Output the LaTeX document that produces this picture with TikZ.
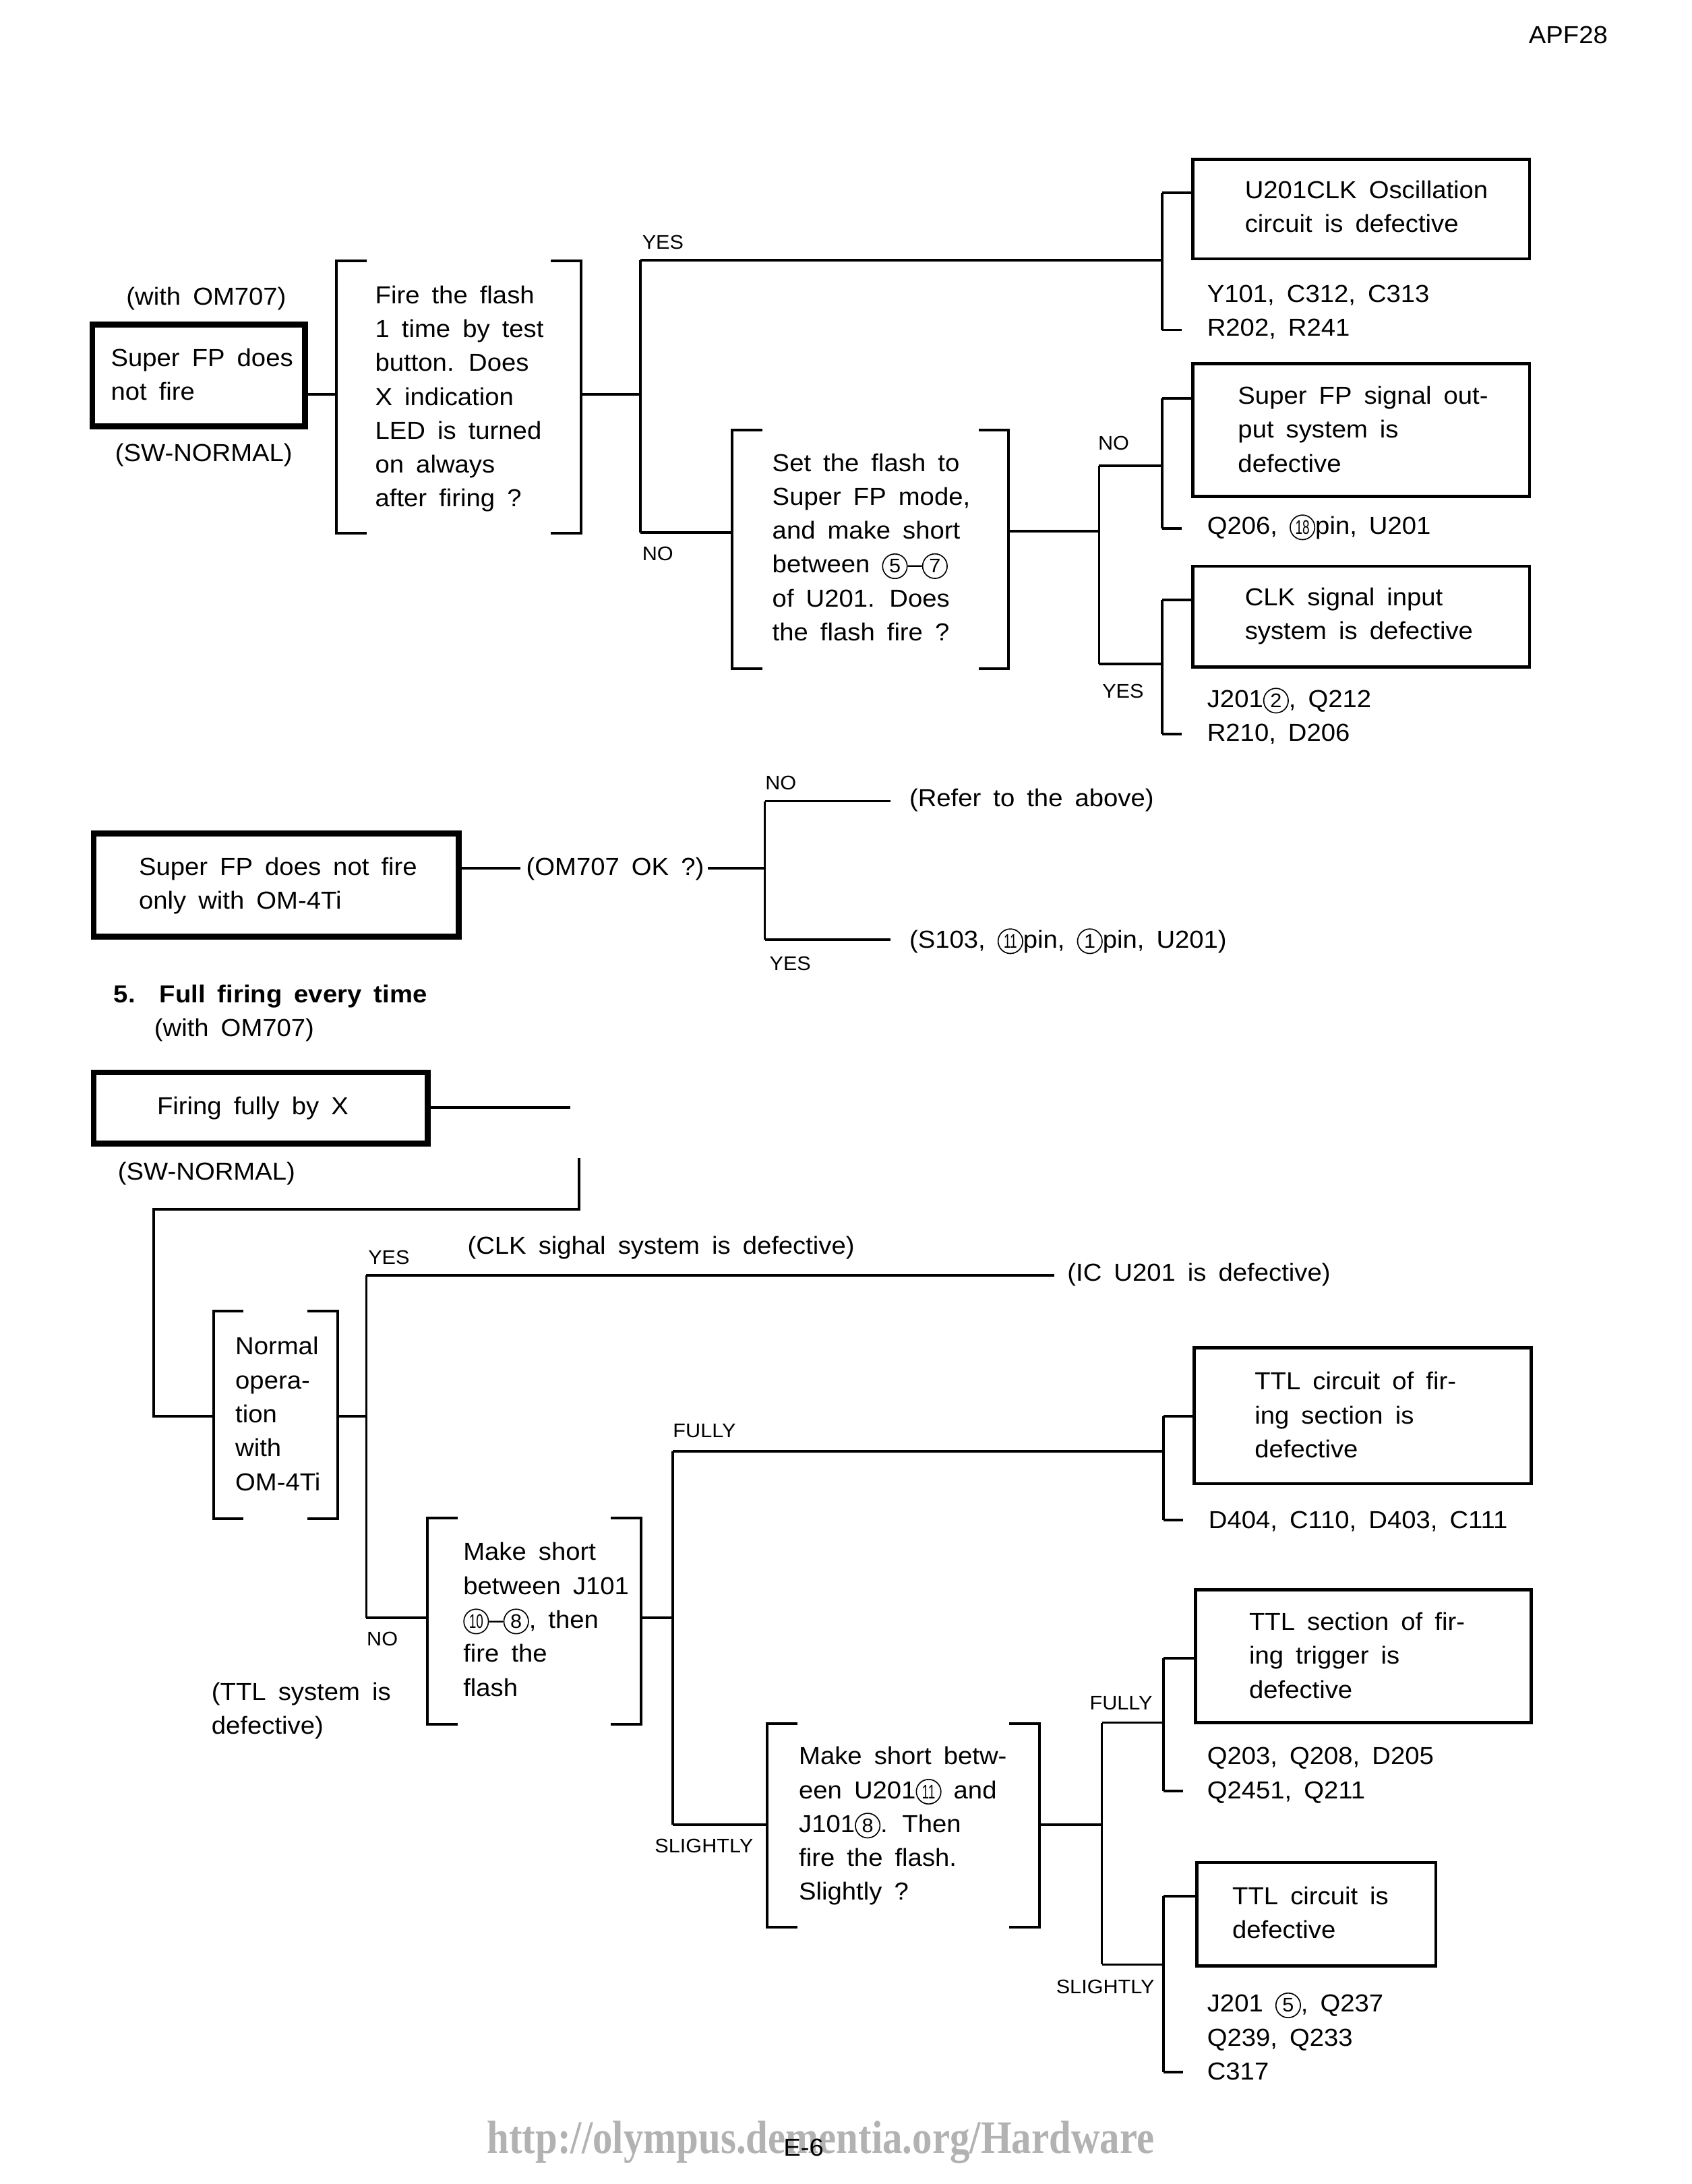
\documentclass[tikz,border=0pt]{standalone}
\usepackage{fontspec}
\setmainfont{Liberation Sans}[FakeStretch=1.05,WordSpace=1.7]
\newfontfamily\urlfont{Liberation Serif}[FakeStretch=0.85]
\usetikzlibrary{fit}
\newcommand{\cn}[1]{\tikz[baseline=(cc.base)]\node[draw,circle,line width=0.45pt,inner sep=0pt,minimum size=10pt,font=\fontsize{8}{8}\selectfont](cc){#1};}
\newcommand{\cnn}[1]{\cn{\scalebox{0.62}[1]{#1}}}
\newcommand{\ml}[1]{\begin{tabular}[t]{@{}l@{}}#1\end{tabular}}
\newcommand{\drawbrackets}[1]{%
  \draw[brk] ([xshift=0.43cm]#1.north west) -- (#1.north west) -- (#1.south west) -- ([xshift=0.43cm]#1.south west);
  \draw[brk] ([xshift=-0.43cm]#1.north east) -- (#1.north east) -- (#1.south east) -- ([xshift=-0.43cm]#1.south east);}
\tikzset{
  conn/.style={line width=1pt},
  brk/.style={line width=1.1pt},
  box/.style={draw,line width=1.2pt,inner sep=0pt},
  tbox/.style={draw,line width=2.4pt,inner sep=0pt},
  hid/.style={inner sep=0pt},
  txt/.style={anchor=base west,inner sep=0pt,font=\fontsize{10}{13.8}\selectfont},
  lbl/.style={anchor=base west,inner sep=0pt,font=\fontsize{8}{9}\selectfont},
}
\begin{document}
\begin{tikzpicture}[x=0.02cm,y=-0.02cm]
\fill[white] (0,0) rectangle (1210,1562);
\useasboundingbox (0,0) rectangle (1210,1562);

% header / footer
\node[txt] (hdr) at (1093,31) {APF28};
\node[anchor=base west,inner sep=0pt,text=black!30,font=\urlfont\bfseries\fontsize{19}{19}\selectfont] (url) at (348,1540) {http://olympus.dementia.org/Hardware};
\node[txt] (pg) at (560,1542) {E-6};

% ---------- top section ----------
\node[txt] (w1) at (90,218) {(with OM707)};
\node[tbox,fit={(66,232)(218,305)}] (b1) {};
\node[txt] (b1t) at (79,262) {\ml{Super FP does\\not fire}};
\node[txt] (sw1) at (82,330) {(SW-NORMAL)};

\node[hid,fit={(241,187)(415,381)}] (q1) {};
\drawbrackets{q1}
\node[txt] (q1t) at (268,217) {\ml{Fire the flash\\1 time by test\\button. Does\\X indication\\LED is turned\\on always\\after firing ?}};

\coordinate (j1) at (458,282);
\coordinate (j1t) at (458,186);
\coordinate (j1b) at (458,381);
\draw[conn] (b1.east |- j1) -- (q1.west |- j1);
\draw[conn] (q1.east |- j1) -- (j1);
\draw[conn] (j1t) -- (j1b);
\node[lbl] (yes1) at (459,178) {YES};
\node[lbl] (no1) at (459,401) {NO};

\node[box,fit={(853,114)(1094,185)}] (bA) {};
\node[txt] (bAt) at (890,142) {\ml{U201CLK Oscillation\\circuit is defective}};
\node[txt] (pA) at (863,216) {\ml{Y101, C312, C313\\R202, R241}};
\coordinate (kA) at (831,186);
\coordinate (kAt) at (831,138);
\coordinate (kAb) at (831,236);
\draw[conn] (j1t) -- (kA);
\draw[conn] (kAt) -- (kAb);
\draw[conn] (kAt) -- (kAt -| bA.west);
\draw[conn] (kAb) -- ++(14,0);

\node[hid,fit={(524,308)(721,478)}] (q2) {};
\drawbrackets{q2}
\node[txt] (q2t) at (552,337) {\ml{Set the flash to\\Super FP mode,\\and make short\\between \cn{5}--\cn{7}\\of U201. Does\\the flash fire ?}};
\draw[conn] (j1b) -- (q2.west |- j1b);
\coordinate (j2) at (786,380);
\coordinate (j2t) at (786,333);
\coordinate (j2b) at (786,475);
\draw[conn] (q2.east |- j2) -- (j2);
\draw[conn] (j2t) -- (j2b);
\node[lbl] (no2) at (785,322) {NO};
\node[lbl] (yes2) at (788,499) {YES};

\node[box,fit={(853,260)(1094,355)}] (bB) {};
\node[txt] (bBt) at (885,289) {\ml{Super FP signal out-\\put system is\\defective}};
\node[txt] (pB) at (863,382) {Q206, \cnn{18}pin, U201};
\coordinate (kB) at (831,333);
\coordinate (kBt) at (831,285);
\coordinate (kBb) at (831,378);
\draw[conn] (j2t) -- (kB);
\draw[conn] (kBt) -- (kBb);
\draw[conn] (kBt) -- (kBt -| bB.west);
\draw[conn] (kBb) -- ++(14,0);

\node[box,fit={(853,405)(1094,477)}] (bC) {};
\node[txt] (bCt) at (890,433) {\ml{CLK signal input\\system is defective}};
\node[txt] (pC) at (863,506) {\ml{J201\cn{2}, Q212\\R210, D206}};
\coordinate (kC) at (831,475);
\coordinate (kCt) at (831,429);
\coordinate (kCb) at (831,525);
\draw[conn] (j2b) -- (kC);
\draw[conn] (kCt) -- (kCb);
\draw[conn] (kCt) -- (kCt -| bC.west);
\draw[conn] (kCb) -- ++(14,0);

% ---------- middle section ----------
\node[tbox,fit={(67,596)(328,670)}] (bD) {};
\node[txt] (bDt) at (99,626) {\ml{Super FP does not fire\\only with OM-4Ti}};
\node[txt] (ok) at (376,626) {(OM707 OK ?)};
\coordinate (m0) at (372,621);
\coordinate (m1) at (506,621);
\coordinate (j3) at (547,621);
\coordinate (j3t) at (547,573);
\coordinate (j3b) at (547,672);
\coordinate (e3t) at (637,573);
\coordinate (e3b) at (637,672);
\draw[conn] (bD.east |- m0) -- (m0);
\draw[conn] (m1) -- (j3);
\draw[conn] (j3t) -- (j3b);
\draw[conn] (j3t) -- (e3t);
\draw[conn] (j3b) -- (e3b);
\node[lbl] (no3) at (547,565) {NO};
\node[lbl] (yes3) at (550,694) {YES};
\node[txt] (ref) at (650,577) {(Refer to the above)};
\node[txt] (s103) at (650,678) {(S103, \cnn{11}pin, \cn{1}pin, U201)};

% ---------- section 5 ----------
\node[txt,font=\fontsize{10}{13.8}\selectfont\bfseries] (h5) at (81,717) {5.\ \ Full firing every time};
\node[txt] (w5) at (110,741) {(with OM707)};
\node[tbox,fit={(67,767)(306,818)}] (bE) {};
\node[txt] (bEt) at (112,797) {Firing fully by X};
\node[txt] (sw5) at (84,844) {(SW-NORMAL)};
\coordinate (eE) at (408,792);
\draw[conn] (bE.east |- eE) -- (eE);

\node[hid,fit={(153,938)(241,1086)}] (q5) {};
\drawbrackets{q5}
\node[txt] (q5t) at (168,969) {\ml{Normal\\opera-\\tion\\with\\OM-4Ti}};
\coordinate (r0) at (414,828);
\coordinate (r1) at (414,865);
\coordinate (r2) at (110,865);
\coordinate (j5) at (262,1013);
\coordinate (j5t) at (262,912);
\coordinate (j5b) at (262,1157);
\coordinate (e5) at (754,912);
\draw[conn] (r0) -- (r1) -- (r2) |- (q5.west |- j5);
\draw[conn] (q5.east |- j5) -- (j5);
\draw[conn] (j5t) -- (j5b);
\draw[conn] (j5t) -- (e5);
\node[lbl] (yes5) at (263,904) {YES};
\node[lbl] (no5) at (262,1177) {NO};
\node[txt] (clk) at (334,897) {(CLK sighal system is defective)};
\node[txt] (ic) at (763,916) {(IC U201 is defective)};
\node[txt] (ttl) at (151,1216) {\ml{(TTL system is\\defective)}};

\node[hid,fit={(306,1086)(458,1233)}] (q3) {};
\drawbrackets{q3}
\node[txt] (q3t) at (331,1116) {\ml{Make short\\between J101\\\cnn{10}--\cn{8}, then\\fire the\\flash}};
\draw[conn] (j5b) -- (q3.west |- j5b);
\coordinate (j6) at (481,1157);
\coordinate (j6t) at (481,1038);
\coordinate (j6b) at (481,1305);
\draw[conn] (q3.east |- j6) -- (j6);
\draw[conn] (j6t) -- (j6b);
\node[lbl] (fu6) at (481,1028) {FULLY};
\node[lbl] (sl6) at (468,1325) {SLIGHTLY};

\node[box,fit={(854,964)(1095,1061)}] (bF) {};
\node[txt] (bFt) at (897,994) {\ml{TTL circuit of fir-\\ing section is\\defective}};
\node[txt] (pF) at (864,1093) {D404, C110, D403, C111};
\coordinate (kF) at (832,1038);
\coordinate (kFt) at (832,1013);
\coordinate (kFb) at (832,1087);
\draw[conn] (j6t) -- (kF);
\draw[conn] (kFt) -- (kFb);
\draw[conn] (kFt) -- (kFt -| bF.west);
\draw[conn] (kFb) -- ++(14,0);

\node[hid,fit={(549,1233)(743,1378)}] (q4) {};
\drawbrackets{q4}
\node[txt] (q4t) at (571,1262) {\ml{Make short betw-\\een U201\cnn{11} and\\J101\cn{8}. Then\\fire the flash.\\Slightly ?}};
\draw[conn] (j6b) -- (q4.west |- j6b);
\coordinate (j7) at (788,1305);
\coordinate (j7t) at (788,1232);
\coordinate (j7b) at (788,1405);
\draw[conn] (q4.east |- j7) -- (j7);
\draw[conn] (j7t) -- (j7b);
\node[lbl] (fu7) at (779,1223) {FULLY};
\node[lbl] (sl7) at (755,1426) {SLIGHTLY};

\node[box,fit={(855,1137)(1095,1232)}] (bG) {};
\node[txt] (bGt) at (893,1166) {\ml{TTL section of fir-\\ing trigger is\\defective}};
\node[txt] (pG) at (863,1262) {\ml{Q203, Q208, D205\\Q2451, Q211}};
\coordinate (kG) at (832,1232);
\coordinate (kGt) at (832,1186);
\coordinate (kGb) at (832,1281);
\draw[conn] (j7t) -- (kG);
\draw[conn] (kGt) -- (kGb);
\draw[conn] (kGt) -- (kGt -| bG.west);
\draw[conn] (kGb) -- ++(14,0);

\node[box,fit={(856,1332)(1027,1406)}] (bH) {};
\node[txt] (bHt) at (881,1362) {\ml{TTL circuit is\\defective}};
\node[txt] (pH) at (863,1439) {\ml{J201 \cn{5}, Q237\\Q239, Q233\\C317}};
\coordinate (kH) at (832,1405);
\coordinate (kHt) at (832,1356);
\coordinate (kHb) at (832,1482);
\draw[conn] (j7b) -- (kH);
\draw[conn] (kHt) -- (kHb);
\draw[conn] (kHt) -- (kHt -| bH.west);
\draw[conn] (kHb) -- ++(14,0);
\end{tikzpicture}
\end{document}
